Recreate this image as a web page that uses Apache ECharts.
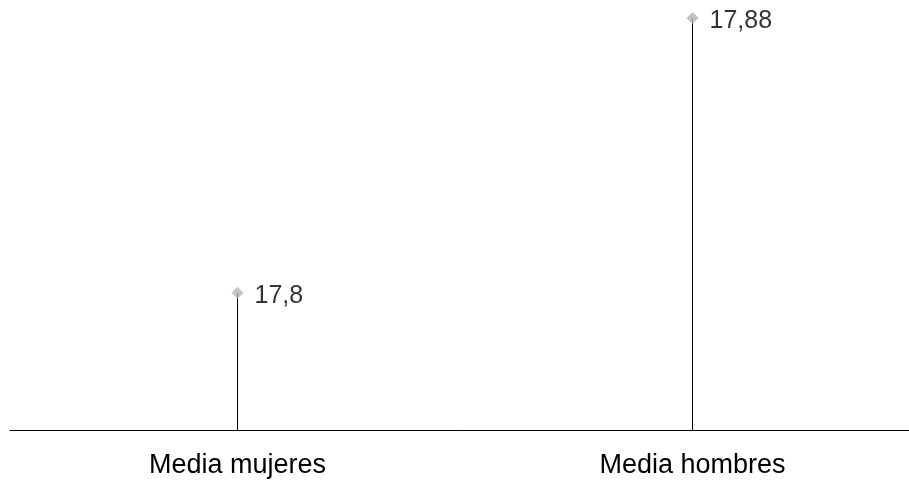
<!DOCTYPE html>
<html>
<head>
<meta charset="utf-8">
<script src="https://cdn.jsdelivr.net/npm/echarts@6/dist/echarts.min.js"></script>
<style>
  html, body { margin: 0; padding: 0; background: #fff; }
  #chart { width: 909px; height: 482px; }
</style>
</head>
<body>
<div id="chart"></div>
<script>
var categories = ['Media mujeres', 'Media hombres']
var values = [17.8, 17.88]
var yMin = 17.76
var yMax = 17.88

var chart = echarts.init(document.getElementById('chart'))

chart.setOption({
  animation: false,
  grid: {
    top: 18,
    left: 10,
    right: -11,
    bottom: 52,
    containLabel: false,
    outerBoundsMode: 'none'
  },
  xAxis: {
    type: 'category',
    data: categories,
    boundaryGap: true,
    axisLine: {
      lineStyle: { color: '#000', width: 1 }
    },
    axisTick: { show: false },
    axisLabel: {
      margin: 22,
      color: '#000',
      fontSize: 27,
      fontFamily: 'Liberation Sans, Arial, sans-serif'
    }
  },
  yAxis: {
    type: 'value',
    min: yMin,
    max: yMax,
    show: false,
    splitLine: { show: false }
  },
  series: [{
    type: 'bar',
    data: values,
    barWidth: 1,
    itemStyle: { color: '#000' },
    silent: true
  }, {
    type: 'scatter',
    data: values,
    symbol: 'diamond',
    symbolSize: 12,
    itemStyle: { color: '#b5b5b5' },
    label: {
      show: true,
      position: 'right',
      distance: 11,
      offset: [0, 3],
      color: '#000',
      fontSize: 25,
      fontFamily: 'Liberation Sans, Arial, sans-serif',
      formatter: function (p) {
        return String(p.value).replace('.', ',')
      }
    }
  }]
})
</script>
</body>
</html>
